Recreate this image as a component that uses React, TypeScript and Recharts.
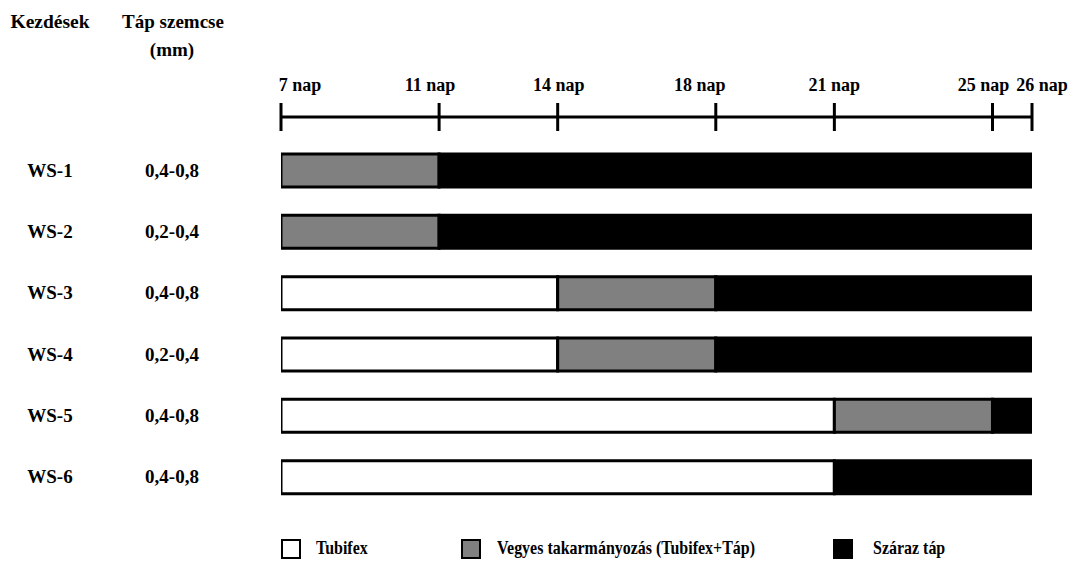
import React from 'react';
import { BarChart, Bar, XAxis, YAxis } from 'recharts';

const treatments = ['WS-1', 'WS-2', 'WS-3', 'WS-4', 'WS-5', 'WS-6'];
const pelletSizes = ['0,4-0,8', '0,2-0,4', '0,4-0,8', '0,2-0,4', '0,4-0,8', '0,4-0,8'];
const startDay = [7, 7, 7, 7, 7, 7];
const tubifexEnd = [7, 7, 14, 14, 21, 21];
const mixedEnd = [11, 11, 18, 18, 25, 21];
const endDay = [26, 26, 26, 26, 26, 26];
const dayTicks = [7, 11, 14, 18, 21, 25, 26];
const seriesNames = ['Tubifex', 'Vegyes takarmányozás (Tubifex+Táp)', 'Száraz táp'];
const seriesColors = ['#ffffff', '#808080', '#000000'];
const headerTreatment = 'Kezdések';
const headerPellet = ['Táp szemcse', '(mm)'];

const data = treatments.map((name, i) => ({
  name,
  tubifex: [startDay[i], tubifexEnd[i]],
  mixed: [tubifexEnd[i], mixedEnd[i]],
  dry: [mixedEnd[i], endDay[i]],
}));

const FONT = "'Liberation Serif'";
const FS = 19;
const TICK_FS = 18;
const tickDx: Record<number, number> = { 7: 19, 11: -9, 14: 1, 18: -16, 21: 0, 25: -9, 26: 10 };

const XTick = (props: any) => {
  const { x, y, payload } = props;
  const v = payload.value as number;
  return (
    <g>
      <line x1={x} x2={x} y1={y - 14} y2={y + 14} stroke="#000" strokeWidth={3} />
      <text x={x + (tickDx[v] ?? 0)} y={y - 26} textAnchor="middle" style={{ fontFamily: FONT, fontWeight: 'bold', fontSize: TICK_FS }} fill="#000">
        {`${v} nap`}
      </text>
    </g>
  );
};

const YTick = (props: any) => {
  const { y, payload, index } = props;
  const i = typeof index === 'number' ? index : treatments.indexOf(payload.value);
  return (
    <g>
      <text x={50} y={y} dy={6} textAnchor="middle" style={{ fontFamily: FONT, fontWeight: 'bold', fontSize: FS }} fill="#000">
        {payload.value}
      </text>
      <text x={172} y={y} dy={6} textAnchor="middle" style={{ fontFamily: FONT, fontWeight: 'bold', fontSize: FS }} fill="#000">
        {pelletSizes[i]}
      </text>
    </g>
  );
};

const textStyle: React.CSSProperties = {
  position: 'absolute',
  fontFamily: FONT,
  fontWeight: 'bold',
  fontSize: FS,
  color: '#000',
  whiteSpace: 'nowrap',
  lineHeight: '22px',
};

const legendPos = [
  { box: 281, text: 316 },
  { box: 461, text: 497 },
  { box: 833, text: 873 },
];

export default function App() {
  return (
    <div style={{ position: 'absolute', left: 0, top: 0, width: 1075, height: 561, background: '#fff', fontFamily: FONT }}>
      <BarChart
        width={1075}
        height={561}
        data={data}
        layout="vertical"
        margin={{ top: 77, right: 43, bottom: 53, left: 0 }}
        barSize={33}
        barGap={-33}
      >
        <XAxis
          type="number"
          orientation="top"
          domain={[7, 26]}
          ticks={dayTicks}
          height={40}
          tickSize={0}
          tickMargin={0}
          tickLine={false}
          axisLine={{ stroke: '#000', strokeWidth: 3 }}
          tick={<XTick />}
          interval={0}
          allowDataOverflow
        />
        <YAxis
          type="category"
          dataKey="name"
          width={281}
          axisLine={false}
          tickLine={false}
          tick={<YTick />}
          interval={0}
          padding={{ top: 23, bottom: 0 }}
        />
        <Bar dataKey="tubifex" name={seriesNames[0]} fill={seriesColors[0]} stroke="#000" strokeWidth={3} isAnimationActive={false} />
        <Bar dataKey="mixed" name={seriesNames[1]} fill={seriesColors[1]} stroke="#000" strokeWidth={3} isAnimationActive={false} />
        <Bar dataKey="dry" name={seriesNames[2]} fill={seriesColors[2]} stroke="#000" strokeWidth={3} isAnimationActive={false} />
      </BarChart>

      <div style={{ ...textStyle, left: 50, top: 11, transform: 'translateX(-50%)', fontSize: 19.5 }}>{headerTreatment}</div>
      <div style={{ ...textStyle, left: 173, top: 11, transform: 'translateX(-50%)' }}>{headerPellet[0]}</div>
      <div style={{ ...textStyle, left: 172, top: 39, transform: 'translateX(-50%)' }}>{headerPellet[1]}</div>

      {seriesNames.map((n, i) => (
        <React.Fragment key={n}>
          <div
            style={{
              position: 'absolute',
              left: legendPos[i].box,
              top: 539,
              width: 16,
              height: 16,
              border: '2px solid #000',
              background: seriesColors[i],
            }}
          />
          <div
            style={{
              ...textStyle,
              left: legendPos[i].text,
              top: 537,
              transform: 'scaleX(0.84)',
              transformOrigin: 'left center',
            }}
          >
            {n}
          </div>
        </React.Fragment>
      ))}
    </div>
  );
}
